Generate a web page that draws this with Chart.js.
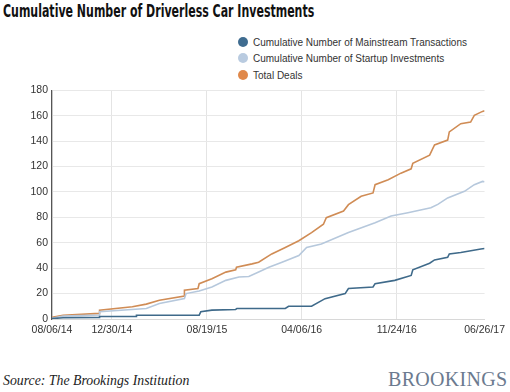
<!DOCTYPE html>
<html>
<head>
<meta charset="utf-8">
<script src="https://cdn.jsdelivr.net/npm/chart.js@4"></script>
<style>
  body { margin: 0; width: 510px; height: 392px; background: #fff; position: relative; overflow: hidden; }
  #title { position: absolute; left: 3px; top: 0px; font: bold 18px "DejaVu Sans Condensed", "DejaVu Sans"; color: #111; white-space: nowrap; transform-origin: 0 0; line-height: 22px; }
  #legend { position: absolute; left: 238px; top: 35px; font: 10px "Liberation Sans", Arial; color: #333; }
  #legend div { height: 16.3px; line-height: 16px; white-space: nowrap; }
  #legend span { display: inline-block; width: 10px; height: 10px; border-radius: 50%; margin-right: 5px; vertical-align: -1px; }
  #wrap { position: absolute; left: 0; top: 80px; width: 510px; height: 260px; }
  #source { position: absolute; left: 3px; top: 373px; font: italic 13.8px "Liberation Serif", serif; color: #222; white-space: nowrap; }
  #brand { position: absolute; left: 388px; top: 368px; font: 20px "Liberation Serif", serif; color: #6b7a8f; letter-spacing: 0.3px; white-space: nowrap; }
</style>
</head>
<body>
<div id="title">Cumulative Number of Driverless Car Investments</div>
<div id="legend"></div>
<div id="wrap"><canvas id="chart"></canvas></div>
<div id="source">Source: The Brookings Institution</div>
<div id="brand">BROOKINGS</div>
<script>
// x values are days since 08/06/14
const tickDays = [0, 146, 378, 609, 841, 1055];
const tickLabels = ['08/06/14', '12/30/14', '08/19/15', '04/06/16', '11/24/16', '06/26/17'];

const seriesNames = ['Cumulative Number of Mainstream Transactions', 'Cumulative Number of Startup Investments', 'Total Deals'];
const lineColors = ['#3f6a8a', '#b6c8dc', '#d08c55'];
const dotColors = ['#3f6c90', '#b9cbe0', '#e0884a'];

const mainDays = [0, 27, 116, 116, 206, 206, 359, 363, 390, 448, 451, 569, 577, 633, 666, 715, 723, 783, 788, 836, 876, 880, 921, 933, 965, 969, 997, 1046, 1055];
const mainValues = [0.3, 1, 1.3, 2, 2, 3, 3, 5.7, 7, 7.5, 8.3, 8.3, 10, 10, 16, 20, 24, 25.2, 27.8, 30.4, 34.3, 38.7, 43.9, 46.5, 48.5, 51.2, 52.4, 55.1, 55.5];

const startupDays = [0, 27, 116, 116, 230, 262, 323, 327, 359, 390, 424, 456, 480, 504, 529, 561, 602, 621, 657, 723, 788, 827, 868, 924, 941, 965, 1006, 1030, 1050, 1055];
const startupValues = [0.5, 2.3, 3.1, 5.7, 8.3, 12.2, 16.1, 20, 22, 25.2, 30.4, 33, 33.5, 37, 40.8, 44.7, 49.9, 56.3, 59, 68, 75.8, 81, 83.6, 87.5, 90.2, 95.3, 100.5, 105.7, 108.3, 108];

const totalDays = [0, 27, 116, 116, 196, 230, 262, 323, 323, 356, 359, 390, 424, 448, 450, 488, 504, 536, 569, 602, 633, 662, 669, 711, 723, 754, 783, 788, 820, 851, 876, 880, 921, 933, 965, 969, 997, 1021, 1030, 1050, 1055];
const totalValues = [1.3, 3, 4.4, 7, 9.6, 11.7, 14.8, 18, 22.6, 24, 27.8, 31.7, 36.9, 38.7, 40.8, 43.4, 44.7, 51.2, 56.3, 61.6, 68, 74.6, 79.7, 85, 90, 96.6, 99.2, 105.7, 109.6, 114.8, 118.2, 122.6, 129, 137, 140.8, 147.3, 153.7, 155, 160.3, 163.4, 164];

const seriesDays = [mainDays, startupDays, totalDays];
const seriesValues = [mainValues, startupValues, totalValues];

// squeeze title to the condensed width of the original
const title = document.getElementById('title');
title.style.transform = 'scaleX(' + (311 / title.scrollWidth) + ')';

// legend
const legend = document.getElementById('legend');
seriesNames.forEach((name, i) => {
  const row = document.createElement('div');
  row.innerHTML = '<span style="background:' + dotColors[i] + '"></span>' + name;
  legend.appendChild(row);
});

const ctx = document.getElementById('chart').getContext('2d');
const chart = new Chart(ctx, {
  type: 'line',
  data: {
    datasets: seriesNames.map((name, i) => ({
      label: name,
      data: seriesDays[i].map((d, j) => ({ x: d, y: seriesValues[i][j] })),
      borderColor: lineColors[i],
      borderWidth: 1.6,
      pointRadius: 0,
      tension: 0,
      fill: false
    }))
  },
  options: {
    responsive: true,
    maintainAspectRatio: false,
    animation: false,
    layout: { padding: { top: 8, right: 23, left: 0, bottom: 0 } },
    plugins: { legend: { display: false }, tooltip: { enabled: false } },
    scales: {
      x: {
        type: 'linear',
        min: 0,
        max: 1055,
        afterBuildTicks: axis => { axis.ticks = tickDays.map(v => ({ value: v })); },
        afterFit: scale => { scale.height = 21; },
        ticks: {
          autoSkip: false,
          maxRotation: 0,
          padding: 5,
          color: '#333',
          font: { family: 'Liberation Sans', size: 10.5 },
          callback: v => tickLabels[tickDays.indexOf(v)]
        },
        grid: {
          drawTicks: false,
          color: ctx => (ctx.index === tickDays.length - 1 ? 'rgba(0,0,0,0)' : '#e4e4e4')
        },
        border: { color: '#d8d8d8' }
      },
      y: {
        min: 0,
        max: 180,
        afterFit: scale => { scale.width = 52; },
        ticks: {
          stepSize: 20,
          padding: 4,
          color: '#333',
          font: { family: 'Liberation Sans', size: 10.5 }
        },
        grid: { drawTicks: false, color: '#e8e8e8' },
        border: { color: '#555', width: 1.2 }
      }
    }
  }
});
</script>
</body>
</html>
